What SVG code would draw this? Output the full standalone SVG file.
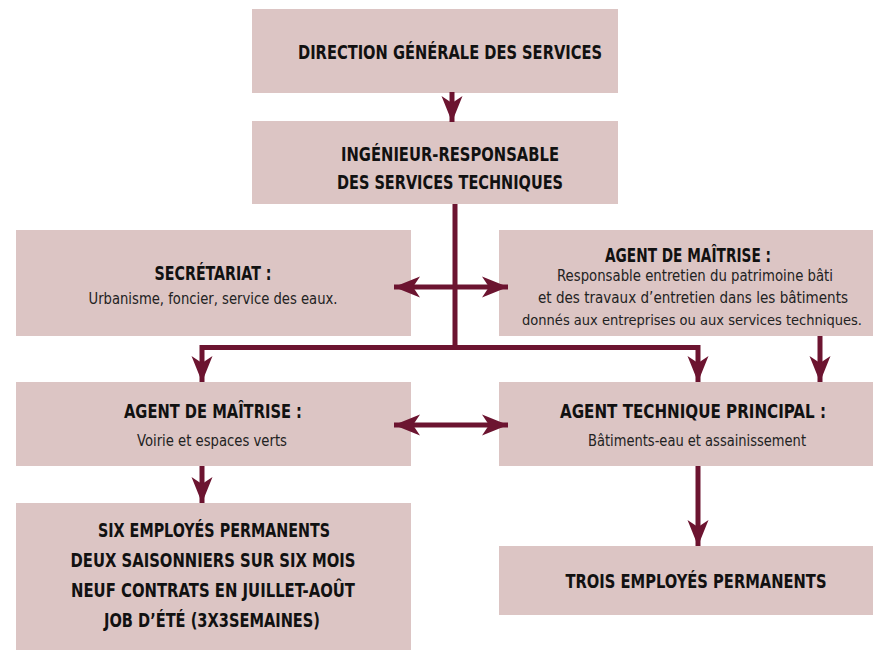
<svg xmlns="http://www.w3.org/2000/svg" width="874" height="650" viewBox="0 0 874 650">
<style>
.box{fill:#dcc5c4}
.t{font-family:"DejaVu Sans Condensed","DejaVu Sans",sans-serif;font-weight:bold;font-size:19px;fill:#111;text-anchor:middle;font-stretch:condensed}
.s{font-family:"DejaVu Sans Condensed","DejaVu Sans",sans-serif;font-size:15.5px;fill:#222;text-anchor:middle;font-stretch:condensed}
.c{stroke:#6c1430;stroke-width:5;fill:none}
</style>
<defs>
<marker id="ah" markerUnits="userSpaceOnUse" markerWidth="30" markerHeight="24" viewBox="-27 -12 28 24" refX="0" refY="0" orient="auto-start-reverse">
<path d="M0,0 L-26,-10.5 L-19,0 L-26,10.5 Z" fill="#6c1430"/>
</marker>
</defs>
<rect width="874" height="650" fill="#fff"/>
<g id="n1"><rect class="box" x="252" y="9" width="366" height="84"/>
<text class="t" x="450" y="59" textLength="304" lengthAdjust="spacingAndGlyphs">DIRECTION GÉNÉRALE DES SERVICES</text></g>
<g id="n2"><rect class="box" x="252" y="121" width="366" height="83"/>
<text class="t" x="450" y="161" textLength="218" lengthAdjust="spacingAndGlyphs">INGÉNIEUR-RESPONSABLE</text>
<text class="t" x="450" y="189" textLength="226" lengthAdjust="spacingAndGlyphs">DES SERVICES TECHNIQUES</text></g>
<g id="n3"><rect class="box" x="16" y="230" width="395" height="106"/>
<text class="t" x="213" y="280" textLength="117" lengthAdjust="spacingAndGlyphs">SECRÉTARIAT :</text>
<text class="s" x="213" y="304" textLength="249" lengthAdjust="spacingAndGlyphs">Urbanisme, foncier, service des eaux.</text></g>
<g id="n4"><rect class="box" x="499" y="230" width="374" height="106"/>
<text class="t" x="688" y="262" textLength="166" lengthAdjust="spacingAndGlyphs">AGENT DE MAÎTRISE :</text>
<text class="s" x="695" y="281" textLength="276" lengthAdjust="spacingAndGlyphs">Responsable entretien du patrimoine bâti</text>
<text class="s" x="693" y="303" textLength="310" lengthAdjust="spacingAndGlyphs">et des travaux d’entretien dans les bâtiments</text>
<text class="s" x="692" y="325" textLength="340" lengthAdjust="spacingAndGlyphs" style="font-size:14px">donnés aux entreprises ou aux services techniques.</text></g>
<g id="n5"><rect class="box" x="16" y="382" width="395" height="84"/>
<text class="t" x="213" y="418" textLength="178" lengthAdjust="spacingAndGlyphs">AGENT DE MAÎTRISE :</text>
<text class="s" x="212" y="446" textLength="150" lengthAdjust="spacingAndGlyphs">Voirie et espaces verts</text></g>
<g id="n6"><rect class="box" x="499" y="382" width="374" height="84"/>
<text class="t" x="693" y="418" textLength="266" lengthAdjust="spacingAndGlyphs">AGENT TECHNIQUE PRINCIPAL :</text>
<text class="s" x="697" y="446" textLength="218" lengthAdjust="spacingAndGlyphs">Bâtiments-eau et assainissement</text></g>
<g id="n7"><rect class="box" x="16" y="503" width="395" height="147"/>
<text class="t" x="214" y="537" textLength="232" lengthAdjust="spacingAndGlyphs">SIX EMPLOYÉS PERMANENTS</text>
<text class="t" x="213" y="567" textLength="285" lengthAdjust="spacingAndGlyphs">DEUX SAISONNIERS SUR SIX MOIS</text>
<text class="t" x="213" y="597" textLength="284" lengthAdjust="spacingAndGlyphs">NEUF CONTRATS EN JUILLET-AOÛT</text>
<text class="t" x="212" y="627" textLength="216" lengthAdjust="spacingAndGlyphs">JOB D’ÉTÉ (3X3SEMAINES)</text></g>
<g id="n8"><rect class="box" x="499" y="546" width="374" height="69"/>
<text class="t" x="696" y="588" textLength="261" lengthAdjust="spacingAndGlyphs">TROIS EMPLOYÉS PERMANENTS</text></g>
<g id="connectors">
<line class="c" x1="452" y1="92" x2="452" y2="122" marker-end="url(#ah)"/>
<line class="c" x1="455" y1="204" x2="455" y2="350"/>
<polyline class="c" points="202,382 202,347.5 698,347.5 698,382" marker-start="url(#ah)" marker-end="url(#ah)"/>
<line class="c" x1="394" y1="287" x2="508" y2="287" marker-start="url(#ah)" marker-end="url(#ah)"/>
<line class="c" x1="820" y1="336" x2="820" y2="382" marker-end="url(#ah)"/>
<line class="c" x1="394" y1="425" x2="508" y2="425" marker-start="url(#ah)" marker-end="url(#ah)"/>
<line class="c" x1="202" y1="466" x2="202" y2="503" marker-end="url(#ah)"/>
<line class="c" x1="698" y1="466" x2="698" y2="546" marker-end="url(#ah)"/>
</g>
</svg>
